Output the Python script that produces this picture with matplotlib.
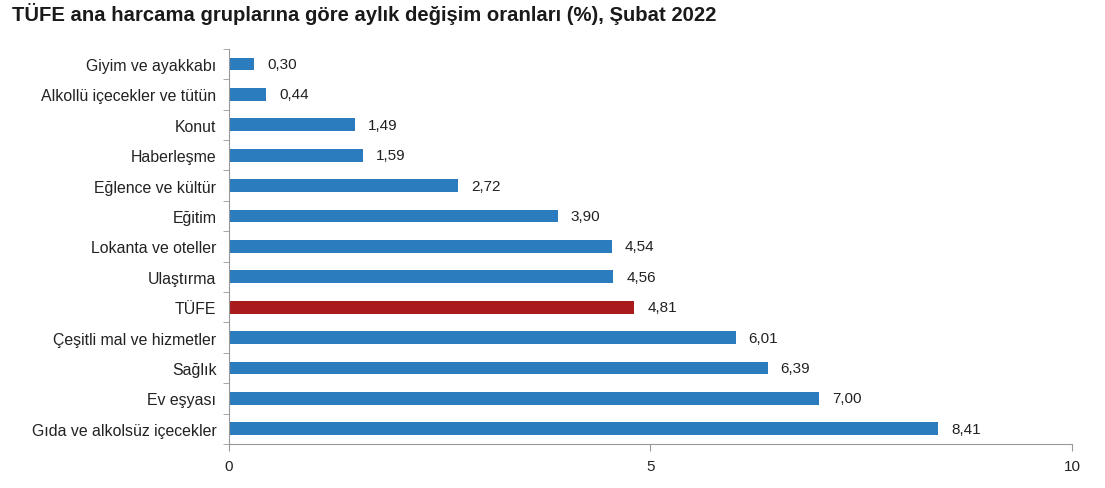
import matplotlib.pyplot as plt
import numpy as np

plt.rcParams['font.family'] = ['Liberation Sans', 'DejaVu Sans']

# Veriler (yukarıdan aşağıya)
categories = ["Giyim ve ayakkabı", "Alkollü içecekler ve tütün", "Konut", "Haberleşme",
              "Eğlence ve kültür", "Eğitim", "Lokanta ve oteller", "Ulaştırma", "TÜFE",
              "Çeşitli mal ve hizmetler", "Sağlık", "Ev eşyası", "Gıda ve alkolsüz içecekler"]
values = [0.30, 0.44, 1.49, 1.59, 2.72, 3.90, 4.54, 4.56, 4.81, 6.01, 6.39, 7.00, 8.41]
x_ticks = [0, 5, 10]

blue = "#2B7BBF"
red = "#A91A1D"
colors = [red if c == "TÜFE" else blue for c in categories]

fig = plt.figure(figsize=(11.05, 4.89), dpi=100)
ax = fig.add_axes([0.2072, 0.09, 0.7629, 0.808])

y = np.arange(len(categories))
ax.barh(y, values, height=0.42, color=colors)
ax.set_ylim(len(categories) - 0.5, -0.5)
ax.set_xlim(0, 10)

for yi, v in zip(y, values):
    ax.text(v + 0.155, yi, f"{v:.2f}".replace(".", ","), va="center", ha="left",
            fontsize=11, color="#222222")

ax.set_yticks(y)
ax.set_yticklabels(categories, fontsize=11.4, color="#222222")
ax.set_yticks(np.arange(-0.5, len(categories), 1), minor=True)
ax.tick_params(axis="y", which="major", length=0, pad=9)
ax.tick_params(axis="y", which="minor", length=4, color="#999999")

ax.set_xticks(x_ticks)
ax.set_xticklabels([str(t) for t in x_ticks], fontsize=11, color="#222222")
ax.tick_params(axis="x", length=5, color="#999999", pad=6)

for side in ["top", "right"]:
    ax.spines[side].set_visible(False)
for side in ["left", "bottom"]:
    ax.spines[side].set_color("#999999")
    ax.spines[side].set_linewidth(0.8)

fig.text(0.011, 0.972, "TÜFE ana harcama gruplarına göre aylık değişim oranları (%), Şubat 2022",
         fontsize=14.6, fontweight="bold", va="center", ha="left", color="#1a1a1a")

fig.savefig("out.png", dpi=100, facecolor="white")
